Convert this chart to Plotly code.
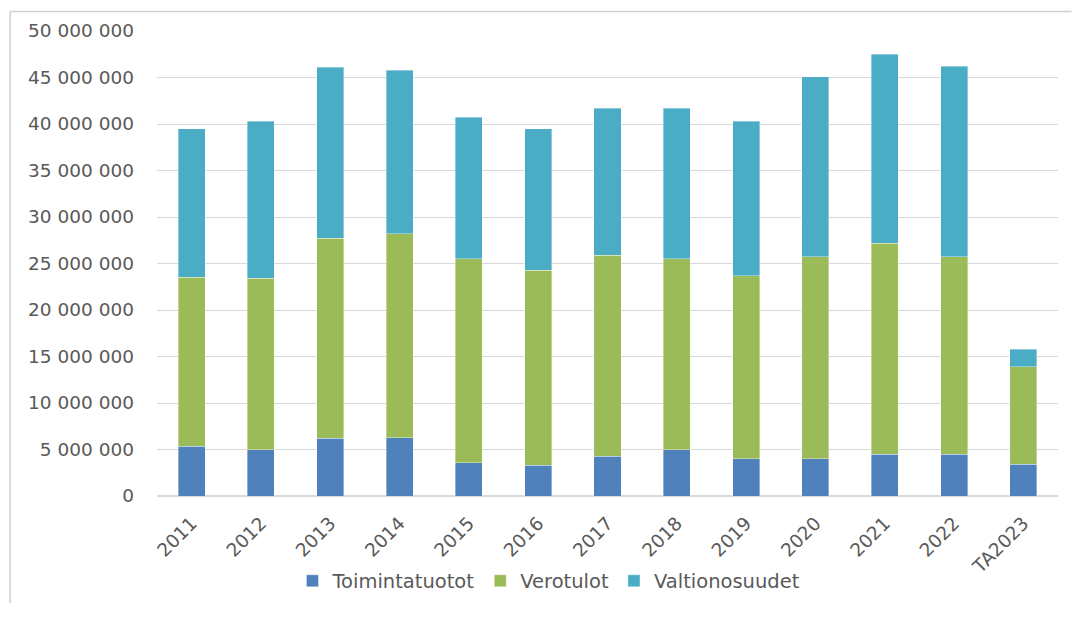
import plotly.graph_objects as go

# --- data ---
years = ['2011', '2012', '2013', '2014', '2015', '2016', '2017',
         '2018', '2019', '2020', '2021', '2022', 'TA2023']

# cumulative tops (euro)
toimintatuotot = [5.35e6, 5.0e6, 6.2e6, 6.25e6, 3.6e6, 3.3e6, 4.3e6,
                  5.0e6, 4.0e6, 4.0e6, 4.5e6, 4.5e6, 3.4e6]
verotulot_top = [23.5e6, 23.4e6, 27.7e6, 28.2e6, 25.5e6, 24.3e6, 25.9e6,
                 25.5e6, 23.7e6, 25.7e6, 27.2e6, 25.7e6, 13.9e6]
total_top = [39.5e6, 40.3e6, 46.1e6, 45.8e6, 40.7e6, 39.5e6, 41.7e6,
             41.7e6, 40.3e6, 45.1e6, 47.5e6, 46.2e6, 15.8e6]

verotulot = [v - t for v, t in zip(verotulot_top, toimintatuotot)]
valtionosuudet = [t - v for t, v in zip(total_top, verotulot_top)]

series = [
    ('Toimintatuotot', toimintatuotot, '#4F81BD'),
    ('Verotulot', verotulot, '#9BBB59'),
    ('Valtionosuudet', valtionosuudet, '#4BACC6'),
]

fig = go.Figure()
for name, vals, col in series:
    fig.add_trace(go.Bar(
        x=years, y=vals, name=name,
        marker=dict(color=col, line=dict(color='rgba(255,255,255,0.6)', width=0.6)),
    ))

font = dict(family='DejaVu Sans, sans-serif', size=18.5, color='#595959')
legend_font = dict(family='DejaVu Sans, sans-serif', size=19.5, color='#595959')

frame = dict(color='#D0D0D0', width=1.5)

# page body has an 8px margin all round: figure shrunk so the page never scrolls
fig.update_layout(
    barmode='stack',
    bargap=0.61,
    separators=', ',
    width=1066, height=605,
    margin=dict(l=149, r=16, t=21, b=110),
    paper_bgcolor='white',
    plot_bgcolor='white',
    font=font,
    showlegend=True,
    legend=dict(orientation='h', x=0.435, xanchor='center', y=-0.183,
                yanchor='middle', font=legend_font, traceorder='normal',
                itemwidth=30, bgcolor='rgba(0,0,0,0)'),
    yaxis=dict(range=[0, 50e6], dtick=5e6, tickformat=',.0f',
               showgrid=True, gridcolor='#D9D9D9', gridwidth=1.3,
               zeroline=True, zerolinecolor='#D9D9D9', zerolinewidth=1.5,
               showline=False, ticklabelstandoff=22, tickfont=font),
    xaxis=dict(tickangle=-45, showline=False, tickfont=font,
               ticklabelstandoff=12),
    # chart-area frame: left and top edges only, kept inside the figure
    shapes=[
        dict(type='line', xref='paper', yref='paper',
             x0=-0.163, x1=-0.163, y0=-0.23, y1=1.042, line=frame),
        dict(type='line', xref='paper', yref='paper',
             x0=-0.163, x1=1.015, y0=1.042, y1=1.042, line=frame),
    ],
)

fig.write_html('out.html')
